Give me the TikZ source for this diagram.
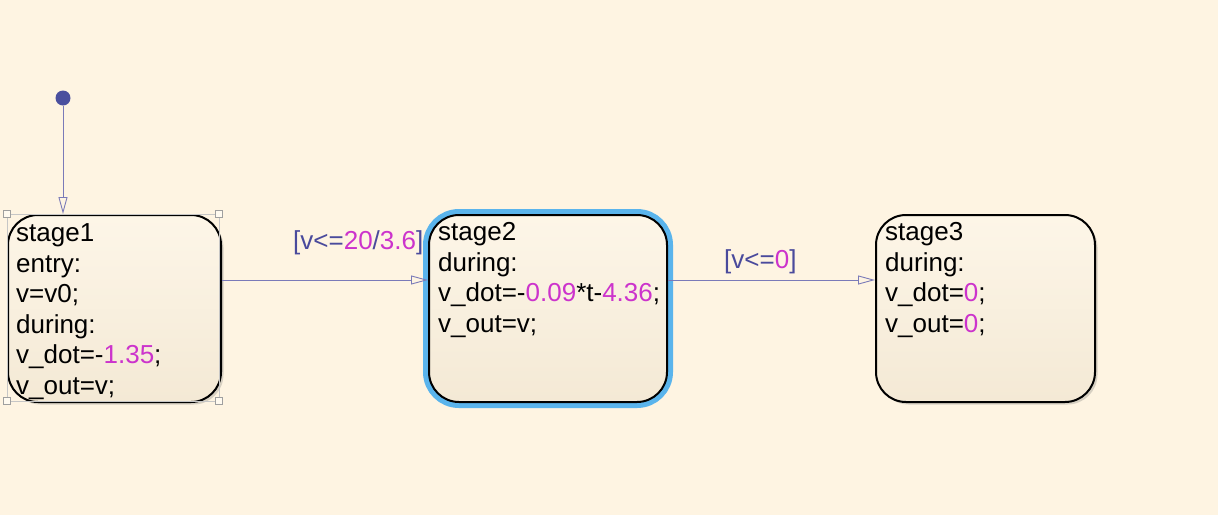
\documentclass[tikz,border=0pt]{standalone}
\usepackage{fontspec}
\setmainfont{Liberation Sans}
\usetikzlibrary{arrows.meta,shadows}
\definecolor{bgc}{HTML}{FEF4E2}
\definecolor{stTop}{HTML}{FDF6E8}
\definecolor{stBot}{HTML}{F4E9D5}
\definecolor{numc}{HTML}{CC33CC}
\definecolor{lblc}{HTML}{4A4A9C}
\definecolor{linec}{HTML}{7A7AB8}
\definecolor{hlc}{HTML}{5AB4EC}
\definecolor{dotc}{HTML}{4A4F9E}
\newcommand{\nmb}[1]{\textcolor{numc}{#1}}
\begin{document}
\begin{tikzpicture}[x=1pt,y=-1pt,
  txt/.style={font=\fontsize{26}{30.5}\selectfont, align=left, inner sep=0pt, anchor=north west, text=black},
  lbl/.style={font=\fontsize{26}{30.5}\selectfont, inner sep=0pt, anchor=base west, text=lblc},
  state/.style={draw=black, line width=2pt, rounded corners=30pt, top color=stTop, bottom color=stBot,
    anchor=north west, inner sep=0pt,
    drop shadow={shadow xshift=2.5pt, shadow yshift=-2.5pt, opacity=0.25, fill=black!60}},
  handle/.style={draw=gray!75, fill=white!50!bgc, line width=0.6pt, minimum size=7pt, inner sep=0pt},
  conn/.style={draw=linec, line width=0.9pt, -{Triangle[open, length=17pt, width=9pt]}}
]
\fill[bgc] (0,0) rectangle (1218,515);
\useasboundingbox (0,0) rectangle (1218,515);

% states
\node[state, minimum width=213pt, minimum height=187pt] (s1) at (7,214) {};
\node[state, minimum width=238pt, minimum height=187pt, preaction={draw=hlc, line width=12pt}] (s2) at (428,214) {};
\node[state, minimum width=219pt, minimum height=187pt] (s3) at (875,214) {};

% state texts
\node[txt] (t1) at (16,223.5) {stage1\\entry:\\v=v0;\\during:\\v\_dot=-\nmb{1.35};\\v\_out=v;};
\node[txt] (t2) at (438,222.5) {stage2\\during:\\v\_dot=-\nmb{0.09}*t-\nmb{4.36};\\v\_out=v;};
\node[txt] (t3) at (885,222.5) {stage3\\during:\\v\_dot=\nmb{0};\\v\_out=\nmb{0};};

% selection handles of stage1
\coordinate (hA) at (7,214);
\coordinate (hB) at (219,401);
\draw[gray!45, line width=0.5pt] (hA) rectangle (hB);
\node[handle] (h1) at (7,214) {};
\node[handle] (h2) at (219,214) {};
\node[handle] (h3) at (7,401) {};
\node[handle] (h4) at (219,401) {};

% initial transition
\node[circle, fill=dotc, minimum size=15pt, inner sep=0pt] (init) at (63,98) {};
\draw[conn] (init) -- (init |- s1.north);

% transitions
\coordinate (ty) at (0,280);
\draw[conn] (s1.east |- ty) -- (s2.west |- ty);
\draw[conn] (s2.east |- ty) -- (s3.west |- ty);

% labels
\node[lbl] (l1) at (293,249) {[v<=\nmb{20}/\nmb{3.6}]};
\node[lbl] (l2) at (724,268) {[v<=\nmb{0}]};
\end{tikzpicture}
\end{document}
